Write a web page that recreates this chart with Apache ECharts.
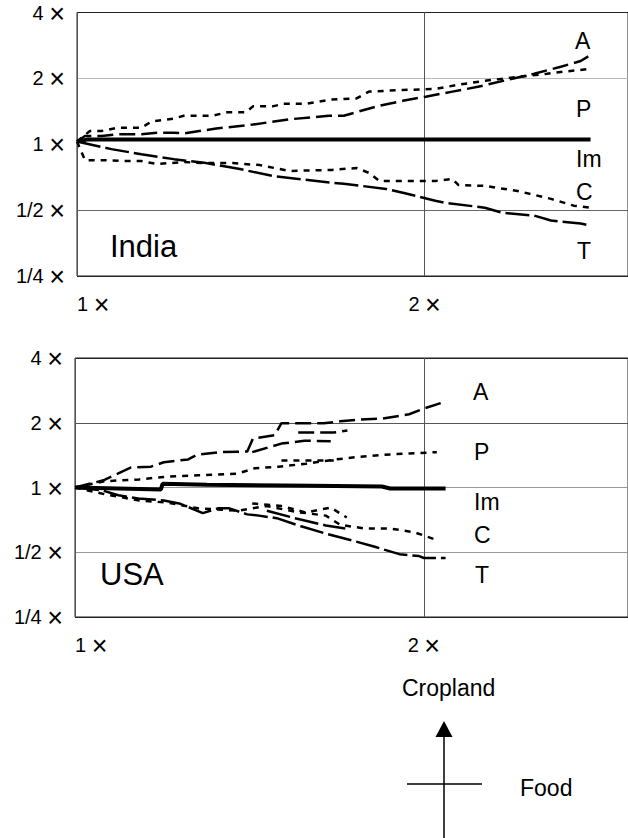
<!DOCTYPE html>
<html>
<head>
<meta charset="utf-8">
<script src="https://cdn.jsdelivr.net/npm/echarts@6/dist/echarts.min.js"></script>
<style>
  html, body { margin: 0; padding: 0; background: #fff; }
  #main { width: 628px; height: 838px; }
</style>
</head>
<body>
<div id="main"></div>
<script>
// tick values and their labels (multiples of the start value)
const yTicks = [0.25, 0.5, 1, 2, 4]
const yTickText = ['1/4', '1/2', '1', '2', '4']
const xTicks = [1, 2]
const xTickText = ['1', '2']

// India: [food multiple, cropland multiple]
const indiaA = [[1,1.03],[1.016,1.09],[1.05,1.09],[1.084,1.11],[1.137,1.11],[1.173,1.13],[1.213,1.13],[1.237,1.12],[1.32,1.18],[1.42,1.23],[1.527,1.30],[1.652,1.35],[1.702,1.35],[1.827,1.50],[1.915,1.58],[2.004,1.65],[2.114,1.74],[2.224,1.83],[2.36,1.97],[2.488,2.10],[2.624,2.26],[2.73,2.40],[2.784,2.56]]
const indiaP = [[1,1.03],[1.026,1.15],[1.05,1.15],[1.084,1.19],[1.137,1.19],[1.16,1.27],[1.213,1.31],[1.237,1.35],[1.31,1.35],[1.35,1.40],[1.40,1.40],[1.42,1.49],[1.477,1.49],[1.51,1.53],[1.58,1.53],[1.66,1.60],[1.746,1.62],[1.79,1.74],[1.915,1.77],[2.043,1.79],[2.139,1.87],[2.255,1.95],[2.407,2.03],[2.553,2.10],[2.624,2.14],[2.784,2.21]]
const indiaIm = [[1,1.03],[1.02,1.05],[2.784,1.05]]
const indiaC = [[1,1.03],[1.016,0.846],[1.05,0.846],[1.099,0.838],[1.137,0.838],[1.173,0.812],[1.237,0.829],[1.294,0.82],[1.365,0.82],[1.44,0.803],[1.527,0.755],[1.662,0.763],[1.746,0.779],[1.791,0.739],[1.827,0.68],[1.915,0.68],[2.043,0.68],[2.114,0.694],[2.139,0.652],[2.255,0.645],[2.407,0.612],[2.573,0.563],[2.692,0.524],[2.784,0.513]]
const indiaT = [[1,1.03],[1.071,0.95],[1.137,0.90],[1.213,0.855],[1.294,0.82],[1.384,0.77],[1.477,0.716],[1.662,0.666],[1.702,0.66],[1.852,0.625],[1.915,0.60],[2.043,0.552],[2.085,0.54],[2.255,0.513],[2.332,0.487],[2.488,0.472],[2.573,0.448],[2.73,0.434],[2.784,0.425]]

// USA (several overlapping traces per category)
const usaA = [[1,1],[1.058,1.08],[1.118,1.24],[1.163,1.25],[1.193,1.31],[1.252,1.35],[1.274,1.42],[1.333,1.46],[1.408,1.47],[1.424,1.69],[1.487,1.75],[1.507,1.99],[1.639,1.99],[1.694,2.03],[1.762,2.07],[1.843,2.09],[1.942,2.19],[2.0,2.33],[2.088,2.51]]
const usaA2 = [[1.422,1.46],[1.507,1.60],[1.577,1.65],[1.662,1.64]]
const usaA3 = [[1.558,1.80],[1.672,1.80],[1.718,1.84]]
const usaP = [[1,1],[1.061,1.07],[1.136,1.09],[1.193,1.12],[1.277,1.14],[1.381,1.16],[1.43,1.23],[1.499,1.25],[1.582,1.29],[1.678,1.35],[1.762,1.39],[1.85,1.42],[1.942,1.44],[2.052,1.46]]
const usaP2 = [[1.507,1.335],[1.672,1.335]]
const usaIm = [[1,1],[1.186,0.98],[1.19,1.04],[1.30,1.03],[1.60,1.02],[1.84,1.01],[1.87,0.99],[2.088,0.99]]
const usaC = [[1,1],[1.061,0.93],[1.136,0.87],[1.204,0.85],[1.277,0.80],[1.381,0.78],[1.464,0.82],[1.552,0.77],[1.646,0.74],[1.694,0.67],[1.779,0.645],[1.868,0.645],[1.961,0.62],[2.052,0.57]]
const usaC2 = [[1.422,0.843],[1.507,0.82],[1.582,0.765],[1.662,0.807],[1.716,0.725]]
const usaT = [[1,1],[1.055,0.97],[1.09,0.92],[1.134,0.89],[1.193,0.87],[1.233,0.84],[1.289,0.76],[1.328,0.80],[1.359,0.80],[1.408,0.75],[1.441,0.74],[1.493,0.72],[1.567,0.66],[1.646,0.61],[1.728,0.57],[1.814,0.53],[1.905,0.49],[1.981,0.48],[2.0,0.47],[2.088,0.47]]
const usaT2 = [[1.464,0.78],[1.552,0.717],[1.646,0.666],[1.711,0.645]]

const FONT = 'Liberation Sans'

// line look for each category
const styles = {
  A:  { type: [16, 6], width: 2.5 },
  P:  { type: [6, 6], width: 2.5 },
  Im: { type: 'solid', width: 4 },
  C:  { type: [6, 6], width: 2.5 },
  T:  { type: [24, 5], width: 2.5 }
}

// "n ×" with a large multiplication sign, as in the source figure
const labelRich = {
  n: { fontSize: 20, fontFamily: FONT, color: '#000' },
  m: { fontSize: 27, fontFamily: FONT, color: '#000', padding: [2, 0, 0, 0] }
}

function tickLabel(ticks, texts) {
  return function (v) {
    const i = ticks.findIndex(t => Math.abs(t - v) < 1e-6)
    return i >= 0 ? '{n|' + texts[i] + ' }{m|×}' : ''
  }
}

function line(name, data, idx) {
  return {
    name: name,
    type: 'line',
    xAxisIndex: idx,
    yAxisIndex: idx,
    data: data,
    showSymbol: false,
    silent: true,
    lineStyle: { color: '#000', type: styles[name].type, width: styles[name].width, cap: 'butt' }
  }
}

function xAxis(idx) {
  return {
    type: 'log', logBase: 2, gridIndex: idx, min: 1, max: 3,
    axisLine: { show: false }, axisTick: { show: false },
    axisLabel: { formatter: tickLabel(xTicks, xTickText), rich: labelRich, margin: 13, showMaxLabel: false, alignMinLabel: 'left' },
    splitLine: { show: true, lineStyle: { color: '#555', width: 1 } }
  }
}

function yAxis(idx, colors) {
  return {
    type: 'log', logBase: 2, gridIndex: idx, min: 0.25, max: 4,
    axisLine: { show: false }, axisTick: { show: false },
    axisLabel: { formatter: tickLabel(yTicks, yTickText), rich: labelRich, margin: 12 },
    splitLine: { show: true, lineStyle: { color: colors, width: 1 } }
  }
}

function txt(x, y, s, size) {
  return { type: 'text', x: x, y: y, silent: true,
    style: { text: s, fill: '#000', font: size + 'px ' + FONT, verticalAlign: 'middle', align: 'left' } }
}

let myChart = echarts.init(document.getElementById('main'), null, { renderer: 'svg' })

let option = {
  animation: false,
  backgroundColor: '#fff',
  grid: [
    { left: 77, top: 10, height: 266, right: -7, show: true, borderColor: '#222', borderWidth: 1 },
    { left: 75, top: 358, height: 259, right: -10, show: true, borderColor: '#222', borderWidth: 1 }
  ],
  xAxis: [xAxis(0), xAxis(1)],
  yAxis: [
    yAxis(0, ['#222', '#666', 'rgba(0,0,0,0)', '#bbb', '#222']),
    yAxis(1, ['#222', '#999', '#999', '#555', '#222'])
  ],
  series: [
    line('Im', indiaIm, 0), line('A', indiaA, 0), line('P', indiaP, 0), line('C', indiaC, 0), line('T', indiaT, 0),
    line('Im', usaIm, 1), line('A', usaA, 1), line('A', usaA2, 1), line('A', usaA3, 1),
    line('P', usaP, 1), line('P', usaP2, 1), line('C', usaC, 1), line('C', usaC2, 1),
    line('T', usaT, 1), line('T', usaT2, 1)
  ],
  graphic: [
    txt(575, 41, 'A', 23), txt(576, 109, 'P', 23), txt(576, 159, 'Im', 23), txt(576, 192, 'C', 23), txt(577, 251, 'T', 23),
    txt(110, 246, 'India', 31),
    txt(473, 392, 'A', 23), txt(474, 452, 'P', 23), txt(474, 502, 'Im', 23), txt(474, 535, 'C', 23), txt(475, 575, 'T', 23),
    txt(100, 574, 'USA', 31),
    // direction key
    txt(402, 688, 'Cropland', 23),
    txt(520, 788, 'Food', 23),
    { type: 'line', silent: true, shape: { x1: 444, y1: 735, x2: 444, y2: 840 }, style: { stroke: '#000', lineWidth: 1.5 } },
    { type: 'polygon', silent: true, shape: { points: [[444, 721], [435.5, 737], [452.5, 737]] }, style: { fill: '#000' } },
    { type: 'line', silent: true, shape: { x1: 407, y1: 784, x2: 482, y2: 784 }, style: { stroke: '#000', lineWidth: 1.5 } }
  ]
}

myChart.setOption(option)
</script>
</body>
</html>
